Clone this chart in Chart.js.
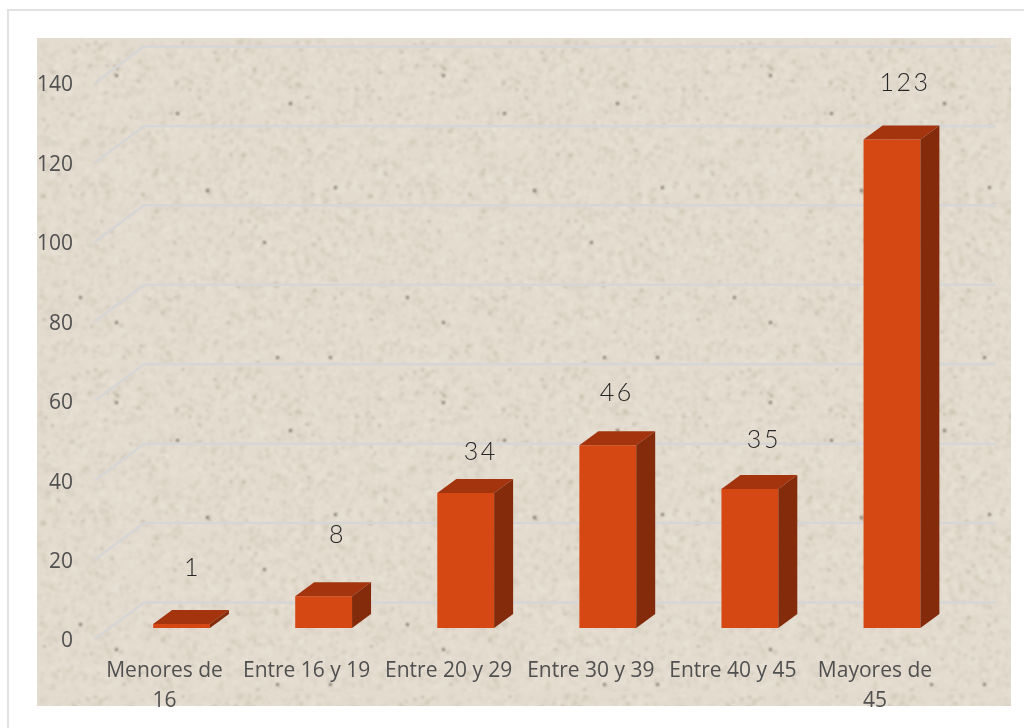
<!DOCTYPE html>
<html>
<head>
  <title>Edades</title>
  <script src="https://cdn.jsdelivr.net/npm/chart.js"></script>
  <style>
    html, body { margin: 0; padding: 0; background: #fff; overflow: hidden; }
    body { width: 1024px; height: 728px; position: relative; }
    .frame {
      position: absolute; left: 7px; top: 9px; right: -4px; bottom: -4px;
      border: 2px solid #e2e2e2;
    }
    canvas { display: block; position: absolute; left: 0; top: 0; }
  </style>
</head>
<body>
  <div class="frame"></div>
  <canvas id="ageChart" width="1024" height="728"></canvas>

  <script>
    const categories = [['Menores de', '16'], 'Entre 16 y 19', 'Entre 20 y 29', 'Entre 30 y 39', 'Entre 40 y 45', ['Mayores de', '45']];
    const values = [1, 8, 34, 46, 35, 123];
    const yTicks = [0, 20, 40, 60, 80, 100, 120, 140];

    // the value labels were placed by hand in the original: [dx from bar centre, lift above bar]
    const labelNudge = [[11, 56], [14, 61], [15, 41], [9, 52], [14, 49], [13, 57]];

    const DEPTH_X = 19, DEPTH_Y = 14;

    // paper texture tile, 327px square like the original picture fill
    function makeTile() {
      const size = 327;
      const c = document.createElement('canvas');
      c.width = c.height = size;
      const g = c.getContext('2d');
      g.fillStyle = '#e3dbce';
      g.fillRect(0, 0, size, size);
      let seed = 4711;
      const rnd = () => (seed = (seed * 16807) % 2147483647) / 2147483647;
      for (let i = 0; i < 7000; i++) {
        const light = rnd() > 0.45;
        g.fillStyle = light ? 'rgba(240,234,224,0.2)' : 'rgba(185,172,152,0.12)';
        const s = 2 + Math.floor(rnd() * 4);
        g.fillRect(rnd() * size, rnd() * size, s, s);
      }
      for (let i = 0; i < 150; i++) {
        g.fillStyle = 'rgba(140,128,110,' + (0.1 + rnd() * 0.2) + ')';
        g.fillRect(rnd() * size, rnd() * size, 3, 3);
      }
      // soften everything, the original is a scaled-up photo
      const soft = document.createElement('canvas');
      soft.width = soft.height = size;
      const s = soft.getContext('2d');
      s.fillStyle = '#e3dbce';
      s.fillRect(0, 0, size, size);
      s.filter = 'blur(1px)';
      s.drawImage(c, 0, 0);
      s.filter = 'blur(0.8px)';
      // the darker grains that stand out
      [[140, 75], [253, 65], [298, 149], [170, 152], [227, 204], [293, 319], [240, 319], [79, 37], [79, 284], [43, 259]].forEach(p => {
        s.fillStyle = 'rgba(95,86,72,0.7)';
        s.fillRect(p[0] - 1, p[1] - 1, 3, 3);
      });
      return soft;
    }

    const panelPlugin = {
      id: 'panel',
      beforeDraw(chart) {
        const ctx = chart.ctx;
        ctx.save();
        ctx.translate(37, 38);
        ctx.fillStyle = ctx.createPattern(makeTile(), 'repeat');
        ctx.fillRect(0, 0, 974, 668);
        ctx.restore();
      }
    };

    // floor-and-wall gridlines: short diagonal on the side wall, then along the back wall
    const gridPlugin = {
      id: 'grid3d',
      beforeDatasetsDraw(chart) {
        const ctx = chart.ctx, y = chart.scales.y;
        ctx.save();
        ctx.strokeStyle = '#d6d6d6';
        ctx.lineWidth = 2.5;
        yTicks.forEach(t => {
          const py = y.getPixelForValue(t);
          ctx.beginPath();
          ctx.moveTo(95, py + 11);
          ctx.lineTo(144, py - 25.5);
          ctx.lineTo(996, py - 25.5);
          ctx.stroke();
        });
        ctx.restore();
      }
    };

    const barSidesPlugin = {
      id: 'barSides',
      afterDatasetsDraw(chart) {
        const ctx = chart.ctx;
        ctx.save();
        chart.getDatasetMeta(0).data.forEach((bar, i) => {
          const l = bar.x - bar.width / 2, r = bar.x + bar.width / 2;
          ctx.fillStyle = '#a3340e';
          ctx.beginPath();
          ctx.moveTo(l, bar.y);
          ctx.lineTo(l + DEPTH_X, bar.y - DEPTH_Y);
          ctx.lineTo(r + DEPTH_X, bar.y - DEPTH_Y);
          ctx.lineTo(r, bar.y);
          ctx.closePath();
          ctx.fill();
          ctx.fillStyle = '#842b0c';
          ctx.beginPath();
          ctx.moveTo(r, bar.y);
          ctx.lineTo(r + DEPTH_X, bar.y - DEPTH_Y);
          ctx.lineTo(r + DEPTH_X, bar.base - DEPTH_Y);
          ctx.lineTo(r, bar.base);
          ctx.closePath();
          ctx.fill();

          ctx.fillStyle = '#262626';
          ctx.font = '300 25px Lato';
          ctx.letterSpacing = '2.5px';
          ctx.textAlign = 'center';
          ctx.textBaseline = 'middle';
          ctx.fillText(values[i], bar.x + labelNudge[i][0], bar.y - labelNudge[i][1]);
        });
        ctx.restore();
      }
    };

    new Chart(document.getElementById('ageChart'), {
      type: 'bar',
      data: {
        labels: categories,
        datasets: [{
          data: values,
          backgroundColor: '#d54814',
          borderWidth: 0,
          barPercentage: 0.4,
          categoryPercentage: 1
        }]
      },
      options: {
        responsive: false,
        animation: false,
        layout: { padding: { left: 0, right: 61, top: 72, bottom: 0 } },
        plugins: { legend: { display: false }, tooltip: { enabled: false } },
        scales: {
          y: {
            min: 0,
            max: 140,
            afterFit: s => { s.width = 110.5; },
            afterBuildTicks: s => { s.ticks = yTicks.map(v => ({ value: v })); },
            grid: { display: false, drawTicks: false },
            border: { display: false },
            ticks: {
              color: '#505050',
              padding: 37.5,
              labelOffset: 13.5,
              font: { family: 'Open Sans', size: 21 }
            }
          },
          x: {
            afterFit: s => { s.height = 100; },
            grid: { display: false, drawTicks: false },
            border: { display: false },
            ticks: {
              color: '#505050',
              padding: 28,
              labelOffset: -17,
              maxRotation: 0,
              autoSkip: false,
              font: { family: 'Open Sans', size: 21, lineHeight: '30px' }
            }
          }
        }
      },
      plugins: [panelPlugin, gridPlugin, barSidesPlugin]
    });
  </script>
</body>
</html>
